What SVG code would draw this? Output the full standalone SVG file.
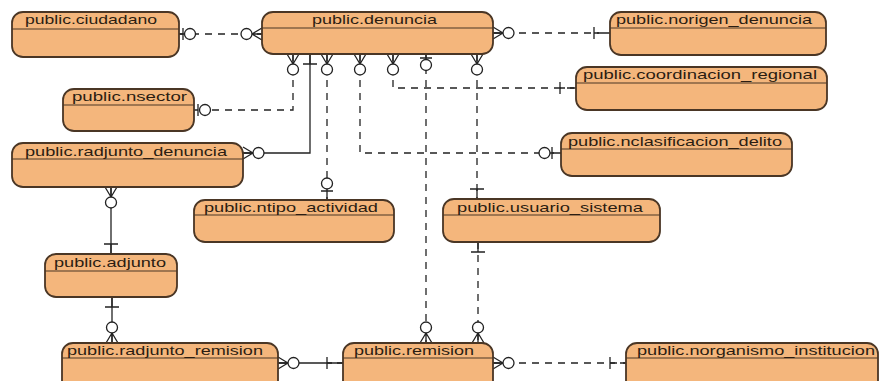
<svg xmlns="http://www.w3.org/2000/svg" width="881" height="381" viewBox="0 0 881 381">
  <style>
    .box { fill: #F4B67C; stroke: #4a3625; stroke-width: 1.8; }
    .hdr { stroke: #4a3625; stroke-width: 1.2; }
    .lbl { font-family: "Liberation Sans", Arial, sans-serif; font-size: 13.5px; fill: #2b1d12; }
    .rel { fill: none; stroke: #222; stroke-width: 1.3; }
    .dash { stroke-dasharray: 7 6; }
    .mk { fill: none; stroke: #222; stroke-width: 1.3; }
    .mk circle { fill: #fff; }
  </style>
  <defs>
    <!-- markers drawn with the entity at the origin and the line coming from -x -->
    <marker id="many" markerUnits="userSpaceOnUse" viewBox="-24 -9 26 18" refX="0" refY="0" markerWidth="26" markerHeight="18" orient="auto-start-reverse" overflow="visible">
      <g class="mk">
        <path d="M-10,0 L0,-6 M-10,0 L0,0 M-10,0 L0,6"/>
        <circle cx="-15.5" cy="0" r="5.5"/>
      </g>
    </marker>
    <marker id="zeroOneNear" markerUnits="userSpaceOnUse" viewBox="-24 -9 26 18" refX="0" refY="0" markerWidth="26" markerHeight="18" orient="auto-start-reverse" overflow="visible">
      <g class="mk">
        <path d="M-4,-6 V6 M-4,0 H0"/>
        <circle cx="-11" cy="0" r="5.5"/>
      </g>
    </marker>
    <marker id="zeroOneFar" markerUnits="userSpaceOnUse" viewBox="-24 -9 26 18" refX="0" refY="0" markerWidth="26" markerHeight="18" orient="auto-start-reverse" overflow="visible">
      <g class="mk">
        <path d="M-9,-6 V6 M-9,0 H0"/>
        <circle cx="-16.5" cy="0" r="5.5"/>
      </g>
    </marker>
    <marker id="oneNear" markerUnits="userSpaceOnUse" viewBox="-24 -9 26 18" refX="0" refY="0" markerWidth="26" markerHeight="18" orient="auto-start-reverse" overflow="visible">
      <g class="mk">
        <path d="M-10,-7 V7 M-10,0 H0"/>
      </g>
    </marker>
    <marker id="oneFar" markerUnits="userSpaceOnUse" viewBox="-24 -9 26 18" refX="0" refY="0" markerWidth="26" markerHeight="18" orient="auto-start-reverse" overflow="visible">
      <g class="mk">
        <path d="M-16,-6 V6 M-16,0 H-11 M-6,0 H0"/>
      </g>
    </marker>
  </defs>

  <rect width="881" height="381" fill="#fff"/>

  <!-- relationships -->
  <g id="connectors">
    <path class="rel dash" d="M179,34 H262" marker-start="url(#zeroOneNear)" marker-end="url(#many)"/>
    <path class="rel dash" d="M493,33 H610" marker-start="url(#many)" marker-end="url(#oneFar)"/>
    <path class="rel dash" d="M293,54 V110 H194" marker-start="url(#many)" marker-end="url(#zeroOneNear)"/>
    <path class="rel" d="M310,54 V153 H243" marker-start="url(#oneNear)" marker-end="url(#many)"/>
    <path class="rel dash" d="M327,54 V200" marker-start="url(#many)" marker-end="url(#zeroOneFar)"/>
    <path class="rel dash" d="M360,54 V153 H561" marker-start="url(#many)" marker-end="url(#zeroOneFar)"/>
    <path class="rel dash" d="M393,54 V88 H576" marker-start="url(#many)" marker-end="url(#oneFar)"/>
    <path class="rel dash" d="M426,54 V343" marker-start="url(#zeroOneNear)" marker-end="url(#many)"/>
    <path class="rel dash" d="M477,54 V199" marker-start="url(#many)" marker-end="url(#oneNear)"/>
    <path class="rel dash" d="M478,242 V343" marker-start="url(#oneNear)" marker-end="url(#many)"/>
    <path class="rel" d="M111,187 V254" marker-start="url(#many)" marker-end="url(#oneNear)"/>
    <path class="rel" d="M112,297 V343" marker-start="url(#oneNear)" marker-end="url(#many)"/>
    <path class="rel" d="M278,363 H343" marker-start="url(#many)" marker-end="url(#oneFar)"/>
    <path class="rel dash" d="M493,363 H626" marker-start="url(#many)" marker-end="url(#oneFar)"/>
  </g>

  <!-- tables -->
  <g id="ciudadano">
    <rect class="box" x="12" y="12" width="167" height="45" rx="11"/>
    <line class="hdr" x1="12" y1="29" x2="179" y2="29"/>
    <text class="lbl" x="25" y="24" textLength="132" lengthAdjust="spacingAndGlyphs">public.ciudadano</text>
  </g>
  <g id="denuncia">
    <rect class="box" x="262" y="12" width="231" height="42" rx="11"/>
    <line class="hdr" x1="262" y1="28" x2="493" y2="28"/>
    <text class="lbl" x="312" y="24" textLength="125" lengthAdjust="spacingAndGlyphs">public.denuncia</text>
  </g>
  <g id="norigen_denuncia">
    <rect class="box" x="610" y="12" width="216" height="43" rx="11"/>
    <line class="hdr" x1="610" y1="28" x2="826" y2="28"/>
    <text class="lbl" x="616" y="24" textLength="196" lengthAdjust="spacingAndGlyphs">public.norigen_denuncia</text>
  </g>
  <g id="coordinacion_regional">
    <rect class="box" x="576" y="67" width="251" height="43" rx="11"/>
    <line class="hdr" x1="576" y1="83" x2="827" y2="83"/>
    <text class="lbl" x="583" y="79" textLength="234" lengthAdjust="spacingAndGlyphs">public.coordinacion_regional</text>
  </g>
  <g id="nsector">
    <rect class="box" x="63" y="89" width="131" height="42" rx="11"/>
    <line class="hdr" x1="63" y1="105" x2="194" y2="105"/>
    <text class="lbl" x="72" y="101" textLength="115" lengthAdjust="spacingAndGlyphs">public.nsector</text>
  </g>
  <g id="radjunto_denuncia">
    <rect class="box" x="12" y="143" width="231" height="44" rx="11"/>
    <line class="hdr" x1="12" y1="159" x2="243" y2="159"/>
    <text class="lbl" x="25" y="156" textLength="202" lengthAdjust="spacingAndGlyphs">public.radjunto_denuncia</text>
  </g>
  <g id="nclasificacion_delito">
    <rect class="box" x="561" y="133" width="231" height="43" rx="11"/>
    <line class="hdr" x1="561" y1="149" x2="792" y2="149"/>
    <text class="lbl" x="568" y="146" textLength="214" lengthAdjust="spacingAndGlyphs">public.nclasificacion_delito</text>
  </g>
  <g id="ntipo_actividad">
    <rect class="box" x="194" y="200" width="200" height="42" rx="11"/>
    <line class="hdr" x1="194" y1="215" x2="394" y2="215"/>
    <text class="lbl" x="204" y="212" textLength="174" lengthAdjust="spacingAndGlyphs">public.ntipo_actividad</text>
  </g>
  <g id="usuario_sistema">
    <rect class="box" x="443" y="199" width="217" height="43" rx="11"/>
    <line class="hdr" x1="443" y1="215" x2="660" y2="215"/>
    <text class="lbl" x="457" y="212" textLength="186" lengthAdjust="spacingAndGlyphs">public.usuario_sistema</text>
  </g>
  <g id="adjunto">
    <rect class="box" x="45" y="254" width="132" height="43" rx="11"/>
    <line class="hdr" x1="45" y1="271" x2="177" y2="271"/>
    <text class="lbl" x="54" y="267" textLength="112" lengthAdjust="spacingAndGlyphs">public.adjunto</text>
  </g>
  <g id="radjunto_remision">
    <rect class="box" x="62" y="343" width="216" height="60" rx="11"/>
    <line class="hdr" x1="62" y1="358" x2="278" y2="358"/>
    <text class="lbl" x="67" y="355" textLength="196" lengthAdjust="spacingAndGlyphs">public.radjunto_remision</text>
  </g>
  <g id="remision">
    <rect class="box" x="343" y="343" width="150" height="60" rx="11"/>
    <line class="hdr" x1="343" y1="358" x2="493" y2="358"/>
    <text class="lbl" x="354" y="355" textLength="120" lengthAdjust="spacingAndGlyphs">public.remision</text>
  </g>
  <g id="norganismo_institucion">
    <rect class="box" x="626" y="343" width="252" height="60" rx="11"/>
    <line class="hdr" x1="626" y1="358" x2="878" y2="358"/>
    <text class="lbl" x="637" y="355" textLength="238" lengthAdjust="spacingAndGlyphs">public.norganismo_institucion</text>
  </g>
</svg>
